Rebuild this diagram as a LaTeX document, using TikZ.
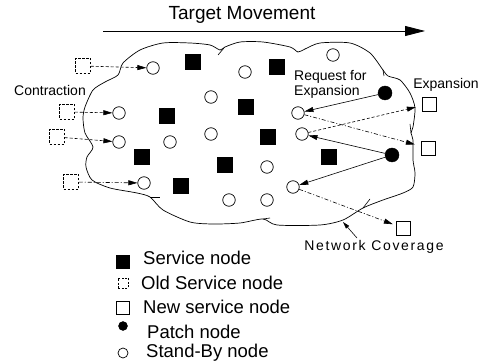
\documentclass[tikz,border=0pt]{standalone}
\usepackage{fontspec}
\setmainfont{Liberation Sans}
\usetikzlibrary{arrows.meta}
\tikzset{
  svc/.style={draw=black,fill=black,minimum size=15pt,inner sep=0pt},
  oldsvc/.style={draw=black,dash pattern=on 2.5pt off 1.5pt,minimum size=15pt,inner sep=0pt,line width=0.5pt},
  newsvc/.style={draw=black,fill=white,minimum size=14pt,inner sep=0pt,line width=0.6pt},
  stby/.style={draw=black,circle,minimum size=12.5pt,inner sep=0pt,line width=0.7pt},
  patch/.style={draw=black,fill=black,circle,minimum size=14pt,inner sep=0pt},
  arrowto/.style={-{Triangle[length=9pt,width=5pt]}},
  dsh/.style={dash pattern=on 3pt off 2pt},
  dshdot/.style={dash pattern=on 4pt off 2pt on 1pt off 2pt},
  conn/.style={line width=0.6pt},
  lbl/.style={font=\fontsize{14}{15}\selectfont,inner sep=0pt},
  leg/.style={font=\fontsize{18.5}{20}\selectfont,inner sep=0pt,anchor=west}
}
\begin{document}
\begin{tikzpicture}[x=1pt,y=-1pt]
\path[use as bounding box,fill=white] (0,0) rectangle (479,363);

% title and movement arrow
\node[font=\fontsize{19}{20}\selectfont,inner sep=0pt] (title) at (242,15) {Target Movement};
\coordinate (tmA) at (103,31);
\coordinate (tmB) at (425,31);
\draw[line width=0.8pt,-{Triangle[length=20pt,width=10pt]}] (tmA) -- (tmB);

% cloud
\draw[line width=0.7pt] plot[smooth cycle,tension=0.45] coordinates {
(118,75) (123,63) (140,50) (163,43) (190,43) (210,45) (220,50) (225,47) (240,42)
(263,42) (290,47) (298,52) (305,49) (320,43) (350,43) (370,53) (383,70) (388,76)
(400,80) (410,93) (415,108) (413,127) (411,133) (413,140) (413,160) (415,173)
(413,187) (403,193) (383,200) (363,208) (343,220) (320,225) (277,225) (263,219)
(240,223) (213,224) (190,222) (163,210) (150,197) (137,193) (110,188) (92,180)
(86,167) (87,157) (93,147) (85,133) (83,118) (85,107) (93,90) (105,82)};
\draw[line width=0.6pt] (224,48) -- (218,55);
\draw[line width=0.6pt] (150,197) -- (160,197);
\draw[line width=0.6pt] (263,219) -- (270,218);
\draw[line width=0.6pt] (383,70) -- (384,76);
\draw[line width=0.6pt] (411,133) -- (410,124);
\draw[line width=0.6pt] (363,208) -- (370,199);

% service nodes
\node[svc] (s1) at (193,62) {};
\node[svc] (s2) at (277,67) {};
\node[svc] (s3) at (246,107) {};
\node[svc] (s4) at (167,116) {};
\node[svc] (s5) at (268,137) {};
\node[svc] (s6) at (142,157) {};
\node[svc] (s7) at (225,165) {};
\node[svc] (s8) at (329,157) {};
\node[svc] (s9) at (181,186) {};

% stand-by nodes
\node[stby] (b1) at (153,68) {};
\node[stby] (b2) at (245,72) {};
\node[stby] (b3) at (333,55) {};
\node[stby] (b4) at (211,97) {};
\node[stby] (b5) at (119,113) {};
\node[stby] (b6) at (298,113) {};
\node[stby] (b7) at (119,142) {};
\node[stby] (b8) at (170,142) {};
\node[stby] (b9) at (211,134) {};
\node[stby] (b10) at (302,134) {};
\node[stby] (b11) at (267,167) {};
\node[stby] (b12) at (144,183) {};
\node[stby] (b13) at (293,187) {};
\node[stby] (b14) at (229,200) {};
\node[stby] (b15) at (267,200) {};

% patch nodes
\node[patch] (p1) at (385,93) {};
\node[patch] (p2) at (392,155) {};

% old service nodes
\node[oldsvc] (o1) at (83,66) {};
\node[oldsvc] (o2) at (67,112) {};
\node[oldsvc] (o3) at (57,137) {};
\node[oldsvc] (o4) at (71,182) {};

% new service nodes
\node[newsvc] (n1) at (429,104) {};
\node[newsvc] (n2) at (428,148) {};
\node[newsvc] (n3) at (403,228) {};

% contraction arrows
\draw[conn,dsh,arrowto] (o1) -- (b1);
\draw[conn,dsh,arrowto] (o2) -- (b5);
\draw[conn,dsh,arrowto] (o3) -- (b7);
\draw[conn,dshdot,arrowto] (o4) -- (b12);

% patch requests
\draw[conn,arrowto] (p1) -- (b6);
\draw[conn,arrowto] (p2) -- (b10);
\draw[conn,arrowto] (p2) -- (b13);

% expansion arrows
\draw[conn,dshdot,arrowto,shorten >=6pt] (b6) -- (n2);
\draw[conn,dsh,arrowto,shorten >=6pt] (b10) -- (n1);
\draw[conn,dshdot,arrowto,shorten >=3pt] (b13) -- (n3);

% labels
\node[lbl] (lcon) at (50,90) {Contraction};
\node[lbl,align=left,anchor=west] (lreq) at (294,84) {Request for\\Expansion};
\node[lbl] (lexp) at (446,85) {Expansion};
\node[lbl,font=\fontsize{14}{15}\selectfont\addfontfeature{LetterSpace=12}] (lnet) at (374,247) {Network Coverage};
\coordinate (nctail) at (357,238);
\coordinate (nctip) at (343,222);
\draw[conn,-{Triangle[length=7pt,width=4pt]}] (nctail) -- (nctip);

% legend
\node[draw=black,fill=black,minimum size=13pt,inner sep=0pt] (k1) at (123,262) {};
\node[leg] (t1) at (143,258) {Service node};
\node[draw=black,dash pattern=on 2pt off 1.5pt,minimum size=10pt,inner sep=0pt,line width=0.5pt] (k2) at (123,283) {};
\node[leg] (t2) at (141,283) {Old Service node};
\node[draw=black,minimum size=13pt,inner sep=0pt,line width=0.6pt] (k3) at (123,308) {};
\node[leg] (t3) at (143,307) {New service node};
\node[draw=black,fill=black,circle,minimum size=9pt,inner sep=0pt] (k4) at (123,326) {};
\node[leg] (t4) at (147,332) {Patch node};
\node[draw=black,circle,minimum size=10pt,inner sep=0pt,line width=0.7pt] (k5) at (123,353) {};
\node[leg] (t5) at (146,353) {Stand-By node};
\end{tikzpicture}
\end{document}
